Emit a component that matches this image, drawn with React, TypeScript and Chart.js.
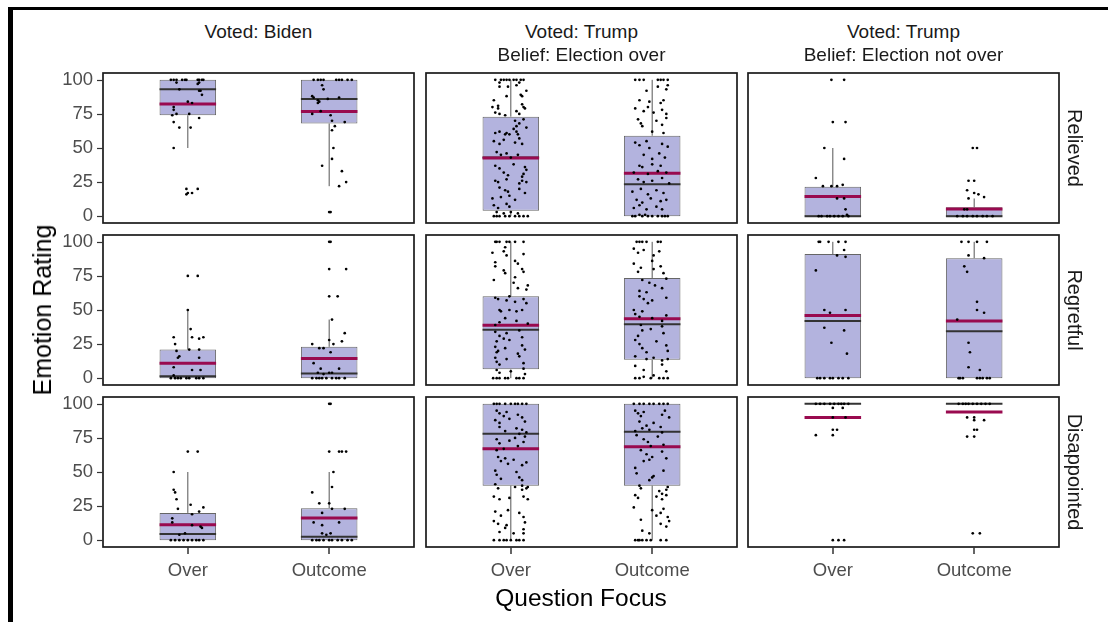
import React, { useEffect, useRef } from 'react';
import { Chart, registerables } from 'chart.js';

Chart.register(...registerables);

// ---------- labels ----------
const CATEGORIES = ['Over', 'Outcome'];
const COLUMN_LABELS = [['Voted: Biden'], ['Voted: Trump', 'Belief: Election over'], ['Voted: Trump', 'Belief: Election not over']];
const ROW_LABELS = ['Relieved', 'Regretful', 'Disappointed'];
const Y_TICKS = [0, 25, 50, 75, 100];
const Y_TITLE = 'Emotion Rating';
const X_TITLE = 'Question Focus';

// ---------- box statistics: panels row-major (Relieved, Regretful, Disappointed) x (Biden, Trump over, Trump not over); [Over, Outcome] ----------
const Q1 = [[74, 68], [4, 0], [0, 0], [0, 0], [6.5, 13.5], [0, 0], [0, 0], [40, 40], [100, 100]];
const MEDIAN = [[93, 86], [43, 23.5], [0, 0], [1.5, 3.5], [35.5, 39.5], [42, 34.5], [4.5, 2.5], [78, 79.5], [100, 100]];
const Q3 = [[100, 100], [73, 59], [21.5, 6.5], [21, 23], [60, 73.5], [91, 88], [20, 23.5], [100, 100], [100, 100]];
const WHISKER_LOW = [[50, 22], [0, 0], [0, 0], [0, 0], [0, 0], [0, 0], [0, 0], [0, 0], [100, 100]];
const WHISKER_HIGH = [[100, 100], [100, 100], [50, 13], [50, 43], [100, 100], [100, 100], [50, 50], [100, 100], [100, 100]];
const MEAN = [[82.3, 76.7], [42.7, 31.4], [14.4, 5.3], [11, 14.4], [38.8, 43.5], [46, 42], [11.3, 16.3], [67, 68.5], [90, 94]];

// ---------- jittered responses: [horizontal jitter, rating] ----------
const RELIEVED_BIDEN_OVER = [
  [-0.12, 100], [-0.10, 100], [-0.08, 100], [-0.04, 100], [-0.02, 100], [-0.01, 100], [0.07, 100], [0.08, 100], [0.10, 100], [0.11, 100],
  [-0.08, 98], [0.08, 98], [0.07, 97], [-0.06, 93], [0.08, 92], [0.09, 92], [0.10, 89], [0.00, 84], [0.03, 83],
  [-0.10, 80], [-0.10, 78], [-0.08, 75], [-0.11, 74], [0.01, 75], [0.08, 72], [-0.10, 69], [-0.06, 65], [0.02, 65],
  [-0.10, 50], [-0.01, 20], [-0.01, 16], [0.00, 17], [0.03, 17], [0.07, 20],
];
const RELIEVED_BIDEN_OUTCOME = [
  [-0.11, 100], [-0.08, 100], [-0.06, 100], [-0.04, 100], [0.05, 100], [0.07, 100], [0.09, 100], [0.13, 100], [0.16, 100],
  [-0.05, 96], [-0.04, 93], [-0.12, 88], [-0.11, 87], [-0.01, 86], [0.07, 87], [-0.08, 85], [-0.07, 84], [-0.08, 83],
  [-0.12, 75], [-0.06, 77], [0.01, 74], [0.02, 70], [0.11, 69], [0.04, 66], [0.02, 63],
  [0.03, 50], [0.02, 42], [-0.05, 37], [0.09, 33], [0.12, 25], [0.07, 22], [0.00, 3], [0.01, 3],
];
const RELIEVED_TRUMPOVER_OVER = [
  [-0.11, 100], [-0.07, 100], [-0.05, 100], [-0.03, 100], [-0.01, 100], [0.02, 100], [0.04, 100], [0.07, 100], [0.09, 100],
  [-0.08, 98], [0.06, 98], [-0.08, 95], [-0.02, 95], [0.04, 96], [0.11, 92], [-0.03, 88], [0.07, 89], [0.08, 88], [-0.12, 85],
  [-0.13, 80], [-0.09, 81], [-0.09, 79], [0.08, 82], [0.09, 80], [0.10, 79],
  [-0.11, 76], [-0.08, 75], [-0.04, 74], [0.04, 77], [0.06, 75],
  [0.03, 70], [0.04, 66], [0.06, 68], [0.09, 71], [0.11, 65], [0.02, 64],
  [-0.11, 61], [-0.08, 62], [-0.04, 60], [-0.03, 61], [-0.01, 60], [0.04, 62], [0.05, 60],
  [-0.12, 55], [-0.08, 53], [-0.05, 56], [0.03, 54], [0.06, 57], [0.08, 53],
  [-0.10, 47], [-0.07, 45], [-0.03, 46], [0.05, 45], [0.00, 43],
  [-0.11, 37], [-0.08, 35], [0.02, 38], [0.10, 36], [0.11, 34],
  [-0.05, 32], [-0.02, 30], [0.09, 31], [0.08, 29],
  [-0.11, 26], [-0.09, 25], [-0.03, 27], [0.06, 24], [0.08, 26], [0.11, 25],
  [-0.08, 21], [-0.04, 19], [-0.02, 18], [0.06, 20], [0.10, 17],
  [-0.13, 13], [-0.01, 15], [0.03, 12], [-0.07, 14],
  [-0.12, 8], [-0.09, 6], [-0.03, 9], [-0.01, 7],
  [-0.10, 3], [-0.05, 2], [0.00, 3], [0.05, 2],
  [-0.12, 0], [-0.10, 0], [-0.08, 0], [-0.04, 0], [-0.01, 0], [0.03, 0], [0.06, 0], [0.09, 0], [0.12, 0],
];
const RELIEVED_TRUMPOVER_OUTCOME = [
  [-0.12, 100], [-0.09, 100], [-0.06, 100], [0.04, 100], [0.06, 100], [0.08, 100], [0.11, 100],
  [0.04, 95], [0.10, 93], [0.11, 96], [-0.04, 92],
  [-0.09, 85], [-0.02, 84], [0.06, 83], [0.08, 85],
  [-0.12, 79], [-0.06, 77], [-0.03, 80], [0.01, 76], [0.07, 78], [0.10, 75],
  [-0.10, 71], [-0.08, 68], [-0.07, 66], [0.03, 70], [0.07, 67], [0.10, 72],
  [0.00, 62], [0.08, 61],
  [-0.12, 54], [-0.09, 52], [-0.04, 55], [-0.02, 50], [0.07, 53], [0.11, 51],
  [-0.06, 45], [0.00, 42], [0.05, 46], [0.09, 43],
  [-0.09, 37], [-0.07, 36], [0.00, 38], [0.06, 37],
  [-0.13, 32], [-0.03, 31], [0.04, 33], [0.10, 32],
  [-0.10, 27], [-0.06, 25], [0.00, 26], [0.07, 28], [0.12, 24],
  [-0.14, 18], [-0.08, 20], [-0.03, 16], [0.03, 19], [0.08, 17],
  [-0.11, 12], [-0.07, 10], [-0.01, 13], [0.06, 11], [0.10, 12],
  [-0.13, 6], [-0.09, 8], [-0.04, 5], [0.03, 7], [0.07, 5],
  [-0.14, 0], [-0.12, 0], [-0.09, 1], [-0.07, 0], [-0.03, 0], [0.00, 0], [0.04, 0], [0.07, 0], [0.11, 0], [-0.05, 1], [0.09, 0],
];
const RELIEVED_NOTOVER_OVER = [
  [-0.01, 100], [0.08, 100], [0.00, 69], [0.09, 69], [-0.06, 50], [0.08, 42], [-0.12, 28],
  [-0.07, 22], [-0.01, 22], [0.03, 22], [0.07, 23], [0.03, 13], [0.08, 13], [0.09, 5], [0.10, 1],
  [-0.10, 0], [-0.08, 0], [-0.04, 0], [-0.02, 0], [0.01, 0], [0.04, 0], [0.07, 0], [0.11, 0],
];
const RELIEVED_NOTOVER_OUTCOME = [
  [-0.01, 50], [0.02, 50], [-0.04, 26], [0.00, 26], [-0.05, 19], [0.00, 17], [0.03, 16], [-0.04, 13], [0.07, 14],
  [-0.07, 5], [-0.05, 5],
  [-0.12, 0], [-0.08, 0], [-0.05, 0], [-0.01, 0], [0.02, 0], [0.06, 0], [0.09, 0], [0.13, 0],
];
const REGRETFUL_BIDEN_OVER = [
  [-0.12, 0], [-0.09, 0], [-0.07, 0], [-0.05, 0], [-0.01, 0], [0.01, 0], [0.06, 0], [0.08, 0], [0.11, 0],
  [-0.10, 2], [-0.10, 8], [0.03, 6], [0.09, 6], [0.08, 15], [-0.07, 15], [-0.06, 16], [-0.08, 20], [0.01, 21], [0.08, 21],
  [-0.09, 25], [-0.10, 30], [0.03, 30], [0.08, 29], [0.11, 30], [0.02, 36], [0.00, 50], [0.00, 75], [0.07, 75],
];
const REGRETFUL_BIDEN_OUTCOME = [
  [-0.12, 0], [-0.09, 0], [-0.07, 0], [-0.05, 0], [-0.02, 0], [0.02, 0], [0.05, 0], [0.07, 0], [0.11, 0],
  [-0.08, 4], [-0.04, 3], [0.00, 4], [0.02, 4], [-0.06, 7], [0.07, 7], [-0.11, 11], [0.01, 19], [-0.07, 22], [-0.04, 22],
  [-0.12, 25], [0.03, 25], [0.09, 27], [0.00, 28], [0.11, 33], [0.02, 43], [0.00, 60], [0.06, 60], [0.00, 80], [0.12, 80],
  [0.00, 100], [0.01, 100],
];
const REGRETFUL_TRUMPOVER_OVER = [
  [-0.11, 100], [-0.10, 100], [-0.08, 100], [-0.03, 100], [-0.01, 100], [0.03, 100], [0.09, 100],
  [-0.04, 96], [-0.13, 92], [-0.05, 93], [-0.03, 90], [0.09, 91],
  [-0.11, 85], [-0.11, 82], [0.05, 84], [0.08, 80], [0.09, 78], [0.03, 86], [-0.05, 79], [-0.04, 77],
  [-0.12, 72], [0.02, 70], [0.05, 66], [0.03, 74], [0.11, 65], [0.12, 68],
  [-0.11, 59], [-0.09, 58], [-0.03, 57], [-0.01, 60], [0.03, 56], [0.09, 58], [0.11, 55],
  [-0.08, 50], [-0.07, 49], [-0.01, 50], [0.04, 49], [0.08, 50],
  [-0.04, 44], [-0.08, 41], [0.04, 42], [0.12, 40], [-0.11, 39],
  [-0.11, 34], [-0.08, 31], [-0.03, 33], [-0.01, 28], [0.06, 35], [0.08, 30], [-0.10, 27], [-0.05, 29],
  [-0.11, 23], [-0.09, 20], [-0.04, 22], [0.05, 18], [0.08, 24], [0.10, 21], [-0.10, 19],
  [-0.11, 15], [-0.10, 12], [-0.08, 10], [-0.03, 14], [0.06, 16], [0.09, 11],
  [-0.10, 6], [-0.08, 4], [0.09, 7], [0.10, 3], [0.00, 5],
  [-0.125, 0], [-0.10, 0], [-0.08, 0], [-0.04, 0], [-0.02, 0], [0.04, 0], [0.06, 0], [0.09, 0],
];
const REGRETFUL_TRUMPOVER_OUTCOME = [
  [-0.11, 100], [-0.09, 100], [-0.07, 100], [-0.04, 100], [0.04, 100], [0.06, 100],
  [-0.13, 95], [-0.10, 92], [-0.06, 94], [0.01, 90], [0.05, 93],
  [-0.13, 84], [0.00, 86], [0.01, 80], [0.06, 82], [-0.10, 78], [-0.08, 81], [0.08, 77],
  [-0.07, 72], [-0.02, 70], [0.02, 68], [0.07, 66], [0.10, 73], [-0.09, 64], [-0.04, 63],
  [-0.09, 60], [-0.06, 58], [0.00, 57], [-0.03, 55], [0.10, 59],
  [-0.13, 50], [-0.12, 47], [-0.09, 45], [-0.07, 49], [0.00, 44], [0.10, 46], [0.07, 42],
  [-0.08, 39], [-0.01, 36], [0.07, 38], [0.08, 33], [-0.10, 31], [-0.07, 35],
  [-0.12, 28], [-0.09, 25], [-0.07, 22], [0.03, 27], [0.10, 24], [0.11, 20], [-0.04, 19],
  [-0.12, 16], [-0.04, 14], [0.01, 15], [0.07, 13], [0.11, 14],
  [-0.12, 9], [-0.06, 6], [0.07, 10], [0.10, 5],
  [-0.12, 0], [-0.09, 0], [-0.06, 1], [-0.01, 0], [0.01, 2], [0.05, 0], [0.08, 0], [0.11, 0],
];
const REGRETFUL_NOTOVER_OVER = [
  [-0.10, 100], [-0.09, 100], [-0.03, 100], [0.04, 100], [0.09, 100], [0.08, 94], [0.03, 90], [0.09, 89], [-0.12, 79],
  [-0.06, 50], [-0.02, 48], [0.09, 50], [-0.06, 37], [0.08, 35], [-0.01, 26], [0.10, 18],
  [-0.11, 0], [-0.09, 0], [-0.06, 0], [-0.02, 0], [0.00, 0], [0.04, 0], [0.07, 0], [0.11, 0],
];
const REGRETFUL_NOTOVER_OUTCOME = [
  [-0.09, 100], [-0.04, 100], [0.02, 100], [0.09, 100], [-0.04, 90], [0.07, 88], [-0.07, 82], [-0.05, 78],
  [0.02, 56], [0.02, 50], [0.07, 48], [-0.12, 43], [-0.04, 26], [-0.03, 19], [-0.04, 8], [0.04, 6],
  [-0.11, 0], [-0.10, 0], [-0.08, 0], [0.02, 0], [0.04, 0], [0.06, 0], [0.09, 0], [0.11, 0],
];
const DISAPPOINTED_BIDEN_OVER = [
  [-0.12, 0], [-0.09, 0], [-0.06, 0], [-0.03, 0], [0.00, 0], [0.03, 0], [0.06, 0], [0.08, 0], [0.11, 0],
  [-0.06, 4], [-0.02, 5], [0.10, 9], [0.09, 10], [0.03, 11], [-0.11, 13], [-0.11, 16], [0.03, 19], [0.08, 21],
  [-0.07, 23], [0.11, 24], [0.02, 26], [-0.08, 30], [-0.09, 35], [-0.10, 37], [-0.10, 50], [0.00, 65], [0.07, 65],
];
const DISAPPOINTED_BIDEN_OUTCOME = [
  [-0.12, 0], [-0.09, 0], [-0.07, 0], [-0.04, 0], [0.00, 0], [0.02, 0], [0.06, 0], [0.09, 0], [0.13, 0], [0.16, 0],
  [-0.05, 5], [-0.02, 4], [0.01, 5], [-0.11, 13], [0.07, 13], [-0.05, 11], [-0.05, 20], [0.02, 23], [0.11, 23],
  [-0.07, 27], [0.00, 27], [-0.12, 35], [0.02, 39], [0.03, 50], [0.00, 65], [0.07, 65], [0.09, 65], [0.12, 65],
  [0.00, 100], [0.01, 100],
];
const DISAPPOINTED_TRUMPOVER_OVER = [
  [-0.12, 100], [-0.10, 100], [-0.08, 100], [-0.04, 100], [0.00, 100], [0.03, 100], [0.05, 100], [0.08, 100], [0.11, 100],
  [-0.10, 95], [-0.08, 93], [-0.05, 91], [-0.03, 94], [-0.01, 89], [0.05, 92], [0.08, 90], [0.10, 87], [-0.11, 88], [-0.08, 86],
  [-0.08, 83], [-0.04, 80], [0.04, 82], [0.06, 78], [0.08, 81], [0.10, 76], [0.11, 79], [0.03, 75],
  [-0.10, 74], [-0.08, 71], [-0.01, 73], [0.05, 69], [0.09, 72], [-0.10, 66], [-0.05, 67],
  [-0.09, 61], [-0.07, 58], [-0.04, 60], [-0.02, 56], [0.02, 59], [0.08, 55], [0.11, 57],
  [-0.11, 51], [-0.10, 48], [-0.07, 45], [0.04, 50], [0.06, 46], [0.08, 44],
  [-0.11, 41], [0.08, 40], [-0.09, 38], [0.03, 39], [0.08, 37], [0.11, 38], [0.12, 39],
  [-0.12, 32], [-0.08, 30], [-0.01, 31], [0.09, 32], [0.12, 30],
  [-0.11, 21], [-0.07, 18], [-0.02, 22], [0.06, 20], [0.09, 17],
  [-0.12, 14], [-0.09, 12], [-0.04, 9], [-0.03, 11], [0.10, 13], [0.09, 8],
  [-0.08, 6], [0.02, 5], [0.09, 5],
  [-0.12, 0], [-0.08, 0], [-0.05, 0], [-0.03, 0], [0.00, 0], [0.04, 0], [0.06, 0], [0.09, 0],
];
const DISAPPOINTED_TRUMPOVER_OUTCOME = [
  [-0.13, 100], [-0.09, 100], [-0.06, 100], [-0.02, 100], [0.01, 100], [0.05, 100], [0.08, 100], [0.11, 100],
  [-0.12, 95], [-0.10, 93], [-0.08, 91], [-0.06, 94], [0.07, 92], [0.09, 95], [0.12, 90],
  [-0.09, 87], [-0.04, 84], [-0.02, 81], [0.01, 86], [0.06, 83], [0.07, 79], [-0.12, 80], [-0.07, 82],
  [-0.11, 77], [-0.06, 74], [-0.03, 72], [0.04, 76], [0.08, 70], [-0.01, 69],
  [-0.08, 66], [-0.04, 63], [0.00, 61], [0.07, 65], [0.10, 60], [-0.06, 58], [-0.02, 59],
  [-0.12, 53], [-0.11, 49], [0.01, 47], [0.08, 51], [-0.02, 44], [0.00, 46],
  [-0.09, 40], [-0.08, 38], [0.05, 36], [0.07, 34], [0.11, 39], [0.10, 37],
  [-0.12, 33], [-0.10, 31], [0.03, 32], [0.07, 30], [0.10, 33],
  [-0.13, 24], [0.00, 22], [0.06, 20], [0.03, 18], [0.08, 23],
  [-0.08, 15], [0.06, 12], [0.11, 17], [0.12, 14], [0.10, 10],
  [-0.07, 7], [-0.02, 5],
  [-0.12, 0], [-0.10, 0], [-0.09, 0], [-0.07, 0], [-0.04, 0], [-0.01, 0], [0.06, 0], [0.10, 0],
];
const DISAPPOINTED_NOTOVER_OVER = [
  [-0.12, 100], [-0.09, 100], [-0.06, 100], [-0.02, 100], [0.01, 100], [0.04, 100], [0.06, 100], [0.08, 100], [0.11, 100],
  [0.00, 97], [0.07, 97], [0.00, 90], [0.09, 90], [0.00, 81], [0.03, 81], [-0.12, 77], [0.00, 77],
  [0.00, 0], [0.04, 0], [0.08, 0],
];
const DISAPPOINTED_NOTOVER_OUTCOME = [
  [-0.11, 100], [-0.08, 100], [-0.06, 100], [-0.04, 100], [-0.01, 100], [0.02, 100], [0.05, 100], [0.08, 100], [0.11, 100],
  [-0.05, 90], [0.00, 90], [0.00, 88], [0.07, 88], [0.00, 81], [0.02, 81], [-0.05, 76], [0.00, 76],
  [-0.01, 5], [0.04, 5],
];

const POINTS = [
  [RELIEVED_BIDEN_OVER, RELIEVED_BIDEN_OUTCOME],
  [RELIEVED_TRUMPOVER_OVER, RELIEVED_TRUMPOVER_OUTCOME],
  [RELIEVED_NOTOVER_OVER, RELIEVED_NOTOVER_OUTCOME],
  [REGRETFUL_BIDEN_OVER, REGRETFUL_BIDEN_OUTCOME],
  [REGRETFUL_TRUMPOVER_OVER, REGRETFUL_TRUMPOVER_OUTCOME],
  [REGRETFUL_NOTOVER_OVER, REGRETFUL_NOTOVER_OUTCOME],
  [DISAPPOINTED_BIDEN_OVER, DISAPPOINTED_BIDEN_OUTCOME],
  [DISAPPOINTED_TRUMPOVER_OVER, DISAPPOINTED_TRUMPOVER_OUTCOME],
  [DISAPPOINTED_NOTOVER_OVER, DISAPPOINTED_NOTOVER_OUTCOME],
];

// ---------- layout & style ----------
const FONT = '"Liberation Sans", Arial, Helvetica, sans-serif';
const PANEL_LEFTS = [103, 426, 748];
const PANEL_TOPS = [73, 235, 397];
const PANEL_W = 311;
const PANEL_H = 150;
const PAD_L = 70;
const PAD_T = 12;
const PAD_R = 8;
const PAD_B = 45;
const X_MIN = 0.4;
const X_MAX = 2.6;
const Y_MIN = -5;
const Y_MAX = 105;
const HALF_BOX = 0.2;
const TICK_LEN = 6;
const BOX_FILL = '#b3b3de';
const BOX_EDGE = '#666666';
const WHISKER_COLOR = '#555555';
const MEDIAN_COLOR = '#333333';
const MEAN_COLOR = '#990a4f';
const POINT_COLOR = '#000000';
const FRAME_COLOR = '#1a1a1a';
const TICK_TEXT = '#4d4d4d';
const TICK_MARK = '#333333';

// panel border + outward tick marks at the scale ticks
const framePlugin = {
  id: 'panelFrame',
  afterDraw(chart: any, _args: any, opts: any) {
    const { ctx, chartArea: a, scales } = chart;
    ctx.save();
    ctx.strokeStyle = FRAME_COLOR;
    ctx.lineWidth = 1.7;
    ctx.strokeRect(a.left, a.top, a.right - a.left, a.bottom - a.top);
    ctx.fillStyle = TICK_MARK;
    if (opts && opts.showX) {
      const xs = scales.x;
      CATEGORIES.forEach((_, i) => {
        const px = Math.round(xs.getPixelForValue(i + 1));
        ctx.fillRect(px - 0.75, a.bottom, 1.5, TICK_LEN + 1);
      });
    }
    if (opts && opts.showY) {
      const ys = scales.y;
      Y_TICKS.forEach((v) => {
        const py = Math.round(ys.getPixelForValue(v));
        ctx.fillRect(a.left - TICK_LEN, py - 0.1, TICK_LEN, 1.2);
      });
    }
    ctx.restore();
  },
};

function Panel({ index }: { index: number }) {
  const ref = useRef<HTMLCanvasElement | null>(null);
  const row = Math.floor(index / 3);
  const col = index % 3;
  const showY = col === 0;
  const showX = row === 2;
  const w = PAD_L + PANEL_W + PAD_R;
  const h = PAD_T + PANEL_H + PAD_B;

  useEffect(() => {
    if (!ref.current) return;
    const centers = CATEGORIES.map((_, i) => i + 1);
    const hline = (vals: number[]) =>
      centers.flatMap((c, i) => [
        { x: c - HALF_BOX, y: vals[i] },
        { x: c + HALF_BOX, y: vals[i] },
        { x: c + 0.5, y: null },
      ]);
    const whiskers = centers.flatMap((c, i) => [
      { x: c, y: WHISKER_LOW[index][i] },
      { x: c, y: Q1[index][i] },
      { x: c, y: null },
      { x: c, y: Q3[index][i] },
      { x: c, y: WHISKER_HIGH[index][i] },
      { x: c, y: null },
    ]);
    const boxes = centers.map((c, i) => ({ x: c, y: [Q1[index][i], Q3[index][i]] }));
    const pts = centers.flatMap((c, i) => POINTS[index][i].map(([dx, y]) => ({ x: c + dx, y })));

    const tickFont = { family: FONT, size: 18.5 };
    const chart = new Chart(ref.current, {
      type: 'scatter',
      data: {
        datasets: [
          { type: 'scatter', data: pts, pointRadius: 1.35, pointBackgroundColor: POINT_COLOR, pointBorderWidth: 0, order: 0 } as any,
          { type: 'line', data: hline(MEAN[index]), borderColor: MEAN_COLOR, borderWidth: 3, pointRadius: 0, showLine: true, spanGaps: false, order: 1 } as any,
          { type: 'line', data: hline(MEDIAN[index]), borderColor: MEDIAN_COLOR, borderWidth: 2, pointRadius: 0, showLine: true, spanGaps: false, order: 2 } as any,
          { type: 'bar', data: boxes, backgroundColor: BOX_FILL, borderColor: BOX_EDGE, borderWidth: 1, borderSkipped: false, barPercentage: 0.4, categoryPercentage: 1, order: 3 } as any,
          { type: 'line', data: whiskers, borderColor: WHISKER_COLOR, borderWidth: 1, pointRadius: 0, showLine: true, spanGaps: false, order: 4 } as any,
        ],
      },
      options: {
        responsive: false,
        animation: false,
        events: [],
        layout: {
          padding: { left: showY ? 0 : PAD_L, right: PAD_R, top: PAD_T, bottom: showX ? 0 : PAD_B },
        },
        plugins: {
          legend: { display: false },
          tooltip: { enabled: false },
          title: { display: false },
          panelFrame: { showX, showY },
        },
        scales: {
          x: {
            type: 'linear',
            min: X_MIN,
            max: X_MAX,
            offset: false,
            display: showX,
            border: { display: false },
            grid: { display: false, offset: false, drawTicks: false },
            ticks: {
              color: TICK_TEXT,
              font: tickFont,
              padding: 13,
              autoSkip: false,
              maxRotation: 0,
              callback: (v: any) => CATEGORIES[Math.round(Number(v)) - 1] ?? '',
            },
            afterBuildTicks: (s: any) => {
              s.ticks = centers.map((v) => ({ value: v }));
            },
            afterFit: (s: any) => {
              if (showX) s.height = PAD_B;
              s.paddingLeft = 0;
              s.paddingRight = 0;
              s.paddingTop = 0;
              s.paddingBottom = 0;
            },
          },
          y: {
            type: 'linear',
            min: Y_MIN,
            max: Y_MAX,
            display: showY,
            border: { display: false },
            grid: { display: false, drawTicks: false },
            ticks: {
              color: TICK_TEXT,
              font: tickFont,
              padding: 10,
              autoSkip: false,
              callback: (v: any) => String(v),
            },
            afterBuildTicks: (s: any) => {
              s.ticks = Y_TICKS.map((v) => ({ value: v }));
            },
            afterFit: (s: any) => {
              if (showY) s.width = PAD_L;
              s.paddingLeft = 0;
              s.paddingRight = 0;
              s.paddingTop = 0;
              s.paddingBottom = 0;
            },
          },
        },
      } as any,
      plugins: [framePlugin],
    });
    return () => chart.destroy();
  }, [index]);

  return (
    <canvas
      ref={ref}
      width={w}
      height={h}
      style={{ position: 'absolute', left: PANEL_LEFTS[col] - PAD_L, top: PANEL_TOPS[row] - PAD_T, width: w, height: h }}
    />
  );
}

function Label({ text, x, y, size, rotate = 0, color = '#1a1a1a' }: { text: string; x: number; y: number; size: number; rotate?: number; color?: string }) {
  return (
    <div
      style={{
        position: 'absolute',
        left: x,
        top: y,
        transform: `translate(-50%, -50%) rotate(${rotate}deg)`,
        fontFamily: FONT,
        fontSize: size,
        lineHeight: 1.2,
        color,
        whiteSpace: 'nowrap',
        pointerEvents: 'none',
      }}
    >
      {text}
    </div>
  );
}

export default function App() {
  const strip = COLUMN_LABELS.flatMap((lines, c) =>
    lines.map((t, k) => (
      <Label key={`c${c}-${k}`} text={t} x={PANEL_LEFTS[c] + PANEL_W / 2} y={32 + k * 23} size={19} />
    ))
  );
  const rowStrip = ROW_LABELS.map((t, r) => (
    <Label key={`r${r}`} text={t} x={1075} y={PANEL_TOPS[r] + PANEL_H / 2} size={20} rotate={90} />
  ));
  return (
    <div style={{ position: 'absolute', left: 0, top: 0, width: 1108, height: 622, background: '#ffffff', overflow: 'hidden' }}>
      <div style={{ position: 'absolute', left: 8, top: 7, width: 1100, height: 3, background: '#000' }} />
      <div style={{ position: 'absolute', left: 8, top: 7, width: 5, height: 615, background: '#000' }} />
      {Array.from({ length: 9 }, (_, i) => (
        <Panel key={i} index={i} />
      ))}
      {strip}
      {rowStrip}
      <Label text={Y_TITLE} x={42} y={310} size={25} rotate={-90} color="#000" />
      <Label text={X_TITLE} x={581} y={598} size={24.5} color="#000" />
    </div>
  );
}
